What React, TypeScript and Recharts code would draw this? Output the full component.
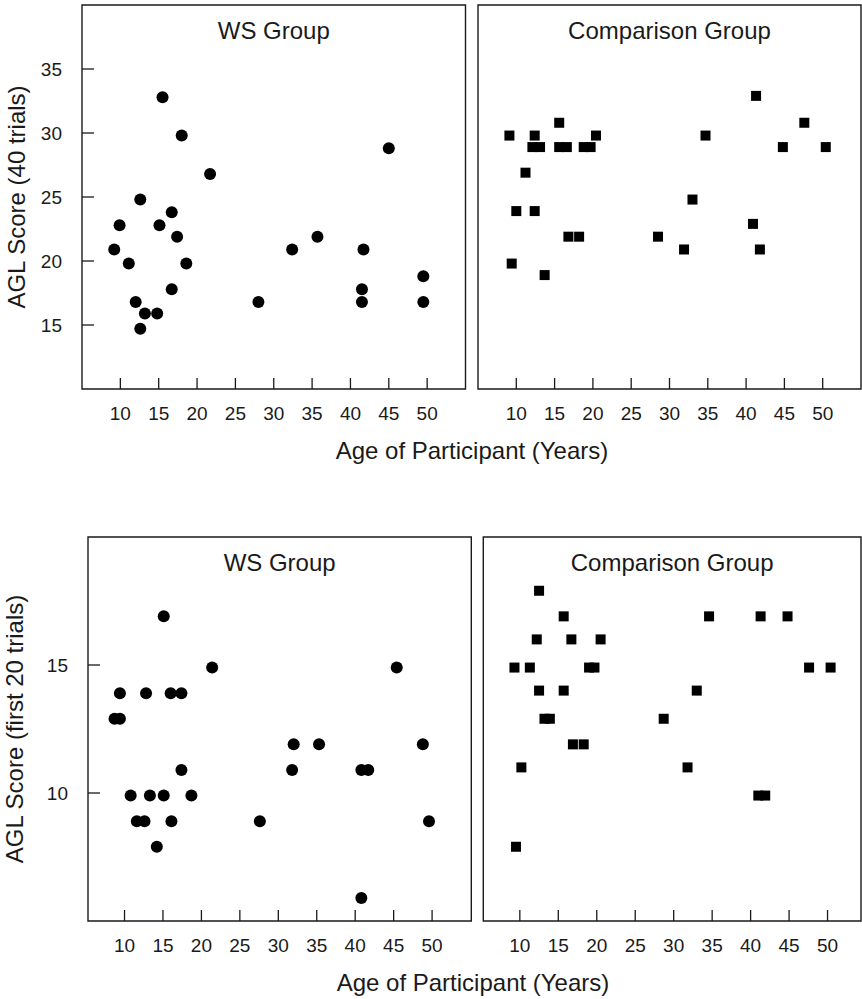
import React from 'react';
import { ScatterChart, Scatter, XAxis, YAxis, ReferenceArea } from 'recharts';

// tick labels
const ageTicks = [10, 15, 20, 25, 30, 35, 40, 45, 50];
const score40Ticks = [15, 20, 25, 30, 35];
const score20Ticks = [10, 15];

// AGL score, 40 trials
const wsAge40 = [9.2, 9.9, 11.1, 12.0, 12.6, 12.6, 13.2, 14.8, 15.1, 15.5, 16.7, 16.7, 17.4, 18.0, 18.6, 21.7, 28.0, 32.4, 35.7, 41.7, 41.5, 41.5, 45.0, 49.5, 49.5];
const wsScore40 = [20.9, 22.8, 19.8, 16.8, 24.8, 14.7, 15.9, 15.9, 22.8, 32.8, 23.8, 17.8, 21.9, 29.8, 19.8, 26.8, 16.8, 20.9, 21.9, 20.9, 17.8, 16.8, 28.8, 18.8, 16.8];
const cmpAge40 = [9.1, 9.4, 10.0, 11.2, 12.4, 12.1, 13.1, 12.4, 13.7, 15.6, 15.6, 16.6, 16.8, 18.2, 18.8, 19.7, 20.4, 28.5, 31.9, 33.0, 34.7, 40.9, 41.3, 41.8, 44.8, 47.6, 50.4];
const cmpScore40 = [29.8, 19.8, 23.9, 26.9, 29.8, 28.9, 28.9, 23.9, 18.9, 30.8, 28.9, 28.9, 21.9, 21.9, 28.9, 28.9, 29.8, 21.9, 20.9, 24.8, 29.8, 22.9, 32.9, 20.9, 28.9, 30.8, 28.9];

// AGL score, first 20 trials
const wsAge20 = [8.7, 9.4, 9.4, 10.8, 11.6, 12.6, 12.8, 13.3, 14.2, 15.1, 15.1, 16.0, 16.1, 17.4, 17.4, 18.7, 21.4, 27.6, 31.8, 32.0, 35.3, 40.8, 41.7, 40.8, 45.4, 48.8, 49.6];
const wsScore20 = [12.9, 12.9, 13.9, 9.9, 8.9, 8.9, 13.9, 9.9, 7.9, 16.9, 9.9, 13.9, 8.9, 13.9, 10.9, 9.9, 14.9, 8.9, 10.9, 11.9, 11.9, 10.9, 10.9, 5.9, 14.9, 11.9, 8.9];
const cmpAge20 = [12.5, 15.7, 34.6, 41.3, 44.8, 12.2, 16.7, 20.5, 9.3, 11.3, 19.0, 19.7, 47.6, 50.4, 12.5, 15.7, 33.0, 13.2, 13.9, 28.7, 16.9, 18.3, 10.2, 31.8, 41.0, 41.9, 9.5];
const cmpScore20 = [17.9, 16.9, 16.9, 16.9, 16.9, 16.0, 16.0, 16.0, 14.9, 14.9, 14.9, 14.9, 14.9, 14.9, 14.0, 14.0, 14.0, 12.9, 12.9, 12.9, 11.9, 11.9, 11.0, 11.0, 9.9, 9.9, 7.9];

const toPoints = (ages: number[], scores: number[]) => ages.map((age, i) => ({ age, score: scores[i] }));

const FONT = '"Liberation Sans", Arial, Helvetica, sans-serif';
const INK = '#1a1a1a';

const XTick = (props: any) => {
  const { x, y, payload } = props;
  return (
    <g>
      <line x1={x} x2={x} y1={y} y2={y - 11} stroke={INK} strokeWidth={1.3} />
      <text x={x} y={y + 31} textAnchor="middle" fontSize={19} fontFamily={FONT} fill={INK}>
        {payload.value}
      </text>
    </g>
  );
};

const YTick = (props: any) => {
  const { x, y, payload } = props;
  return (
    <g>
      <line x1={x} x2={x + 12} y1={y} y2={y} stroke={INK} strokeWidth={1.3} />
      <text x={x - 20} y={y + 7} textAnchor="end" fontSize={19} fontFamily={FONT} fill={INK}>
        {payload.value}
      </text>
    </g>
  );
};

const Dot = (p: any) => <circle cx={p.cx} cy={p.cy} r={6} fill="#000" />;
const Box = (p: any) => <rect x={p.cx - 5} y={p.cy - 5} width={10} height={10} fill="#000" />;

type PanelProps = {
  title: string;
  data: { age: number; score: number }[];
  square?: boolean;
  width: number;
  height: number;
  margin: { top: number; right: number; bottom: number; left: number };
  xDomain: [number, number];
  yDomain: [number, number];
  yTicks: number[];
  yWidth?: number;
};

const Panel = ({ title, data, square, width, height, margin, xDomain, yDomain, yTicks, yWidth }: PanelProps) => (
  <ScatterChart width={width} height={height} margin={margin}>
    <XAxis
      type="number"
      dataKey="age"
      domain={xDomain}
      ticks={ageTicks}
      interval={0}
      height={40}
      tickSize={0}
      tickMargin={0}
      tickLine={false}
      axisLine={false}
      tick={XTick}
    />
    {yWidth ? (
      <YAxis
        type="number"
        dataKey="score"
        domain={yDomain}
        ticks={yTicks}
        interval={0}
        width={yWidth}
        tickSize={0}
        tickMargin={0}
        tickLine={false}
        axisLine={false}
        tick={YTick}
      />
    ) : (
      <YAxis type="number" dataKey="score" domain={yDomain} hide />
    )}
    <ReferenceArea
      x1={xDomain[0]}
      x2={xDomain[1]}
      y1={yDomain[0]}
      y2={yDomain[1]}
      fill="none"
      stroke={INK}
      strokeWidth={1.4}
      label={{ value: title, position: 'insideTop', offset: 17, fontSize: 24, fill: INK, fontFamily: FONT }}
    />
    <Scatter data={data} shape={square ? Box : Dot} isAnimationActive={false} />
  </ScatterChart>
);

const titleStyle: React.CSSProperties = {
  position: 'absolute',
  width: 400,
  height: 30,
  lineHeight: '30px',
  textAlign: 'center',
  fontSize: 24,
  fontFamily: FONT,
  color: INK,
  whiteSpace: 'nowrap',
};

export default function App() {
  return (
    <div style={{ position: 'absolute', left: 0, top: 0, width: 862, height: 999, background: '#fff' }}>
      <div style={{ position: 'absolute', left: 0, top: 0 }}>
        <Panel
          title="WS Group"
          data={toPoints(wsAge40, wsScore40)}
          width={470}
          height={440}
          margin={{ top: 5, right: 4.5, bottom: 11, left: 0 }}
          xDomain={[5, 55]}
          yDomain={[10, 40]}
          yTicks={score40Ticks}
          yWidth={82}
        />
      </div>
      <div style={{ position: 'absolute', left: 470, top: 0 }}>
        <Panel
          title="Comparison Group"
          data={toPoints(cmpAge40, cmpScore40)}
          square
          width={392}
          height={440}
          margin={{ top: 5, right: 1, bottom: 11, left: 8 }}
          xDomain={[5, 55]}
          yDomain={[10, 40]}
          yTicks={score40Ticks}
        />
      </div>
      <div style={{ position: 'absolute', left: 0, top: 500 }}>
        <Panel
          title="WS Group"
          data={toPoints(wsAge20, wsScore20)}
          width={476}
          height={462}
          margin={{ top: 37, right: 4.7, bottom: 1, left: 0 }}
          xDomain={[5.25, 55.1]}
          yDomain={[5, 20]}
          yTicks={score20Ticks}
          yWidth={88}
        />
      </div>
      <div style={{ position: 'absolute', left: 476, top: 500 }}>
        <Panel
          title="Comparison Group"
          data={toPoints(cmpAge20, cmpScore20)}
          square
          width={386}
          height={462}
          margin={{ top: 37, right: 1, bottom: 1, left: 7.3 }}
          xDomain={[5.25, 54.35]}
          yDomain={[5, 20]}
          yTicks={score20Ticks}
        />
      </div>

      <div style={{ ...titleStyle, left: 272, top: 436 }}>Age of Participant (Years)</div>
      <div style={{ ...titleStyle, left: 273, top: 968 }}>Age of Participant (Years)</div>
      <div style={{ ...titleStyle, left: 17 - 200, top: 197 - 15, transform: 'rotate(-90deg)' }}>AGL Score (40 trials)</div>
      <div style={{ ...titleStyle, left: 15 - 200, top: 729 - 15, transform: 'rotate(-90deg)' }}>AGL Score (first 20 trials)</div>
    </div>
  );
}
